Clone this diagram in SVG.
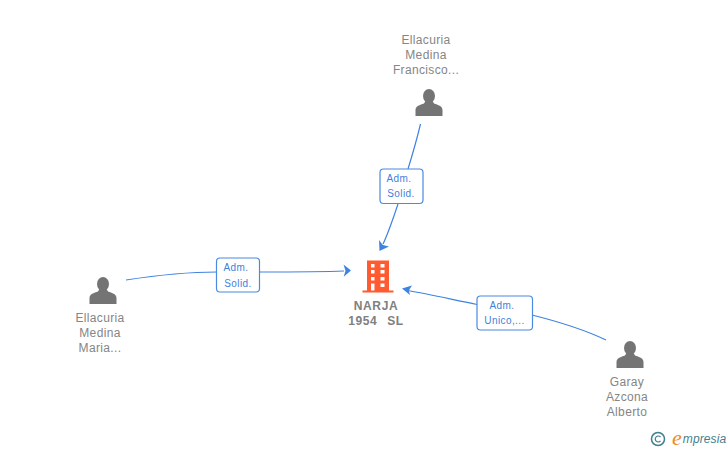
<svg xmlns="http://www.w3.org/2000/svg" width="728" height="450" viewBox="0 0 728 450">
<style>
text{font-family:"Liberation Sans",Arial,sans-serif;text-anchor:middle}
.n{font-size:12px;fill:#858585;letter-spacing:.35px}
.b{font-size:12px;fill:#808080;font-weight:700;letter-spacing:.6px}
.l{font-size:10px;fill:#3f7fdc;letter-spacing:.4px}
.c{fill:none;stroke:#3f83e0;stroke-width:1.2}
.a{fill:#3f83e0}
.box{fill:#fff;stroke:#4a8ae2;stroke-width:1.2}
.p{fill:#747474}
.o{fill:#ff5a30}
</style>
<defs>
<g id="person"><ellipse cx="0" cy="-7" rx="6" ry="7" class="p"/><path class="p" d="M-13.500 13V7C-13.500 3-9 2-5 .5L-3-3H3L5 .5C9 2 13.500 3 13.500 7V13Z"/></g>
</defs>
<g id="connectors">
<path class="c" d="M126 280C165 274 195 272 217 272"/>
<path class="c" d="M260 272C290 272 320 272 344 271"/>
<path class="a" d="M351 270.500L343.500 264.500L345.500 270.700L343.700 276.800Z"/>
<path class="c" d="M420.500 124C416 143 412 156 408 169"/>
<path class="c" d="M398 204C392 222 387 236 383 244"/>
<path class="a" d="M379.500 251L389 246.500L382.800 245L379 240Z"/>
<path class="c" d="M477 304.500C450 299 428 294 408 290.500"/>
<path class="a" d="M402 288.500L410 295L408.800 290.500L412 285.500Z"/>
<path class="c" d="M532 315C560 322 585 330 606 340"/>
</g>
<g id="edge-label-1"><rect class="box" x="216.500" y="258" width="43" height="34" rx="3.500"/><text class="l" x="236" y="271">Adm.</text><text class="l" x="238" y="287">Solid.</text></g>
<g id="edge-label-2"><rect class="box" x="380" y="169" width="43" height="34.500" rx="3.500"/><text class="l" x="399" y="182">Adm.</text><text class="l" x="401" y="197">Solid.</text></g>
<g id="edge-label-3"><rect class="box" x="477" y="296" width="55.500" height="34" rx="3.500"/><text class="l" x="502" y="309">Adm.</text><text class="l" x="504.500" y="324">Unico,...</text></g>
<g id="node-company">
<path class="o" d="M367 260.500H389V290.500H393.500V292.500H362.500V290.500H367Z"/>
<g fill="#fff"><rect x="371" y="264" width="3.500" height="3.500"/><rect x="380.500" y="264" width="4" height="3.500"/><rect x="371" y="270" width="3.500" height="3.500"/><rect x="380.500" y="270" width="4" height="3.500"/><rect x="371" y="277" width="3.500" height="3.500"/><rect x="380.500" y="277" width="4" height="3.500"/><rect x="371" y="283.500" width="3.500" height="7"/><rect x="380.500" y="283.500" width="4" height="3.500"/></g>
<text class="b" x="376" y="310">NARJA</text><text class="b" x="376" y="325" xml:space="preserve" style="word-spacing:1px">1954  SL</text>
</g>
<g id="node-francisco"><use href="#person" x="429" y="103"/><text class="n" x="426" y="44">Ellacuria</text><text class="n" x="426" y="59">Medina</text><text class="n" x="426" y="74">Francisco...</text></g>
<g id="node-maria"><use href="#person" x="103" y="291"/><text class="n" x="100" y="322">Ellacuria</text><text class="n" x="100" y="337">Medina</text><text class="n" x="100" y="352">Maria...</text></g>
<g id="node-garay"><use href="#person" x="630" y="355"/><text class="n" x="627" y="386">Garay</text><text class="n" x="627" y="401">Azcona</text><text class="n" x="627" y="416">Alberto</text></g>
<g id="logo">
<circle cx="658" cy="439" r="6.500" fill="none" stroke="#3f7f8f" stroke-width="1.500"/>
<path d="M660.500 437A3 3 0 1 0 660.500 441" fill="none" stroke="#3f7f8f" stroke-width="1.200"/>
<text x="677" y="445" style="font-size:22px;fill:#f08a1d;font-family:'Liberation Serif',serif;font-style:italic">e</text>
<text x="704.500" y="443" style="font-size:12px;fill:#3f7f8f;font-style:italic;letter-spacing:.1px">mpresia</text>
</g>
</svg>
